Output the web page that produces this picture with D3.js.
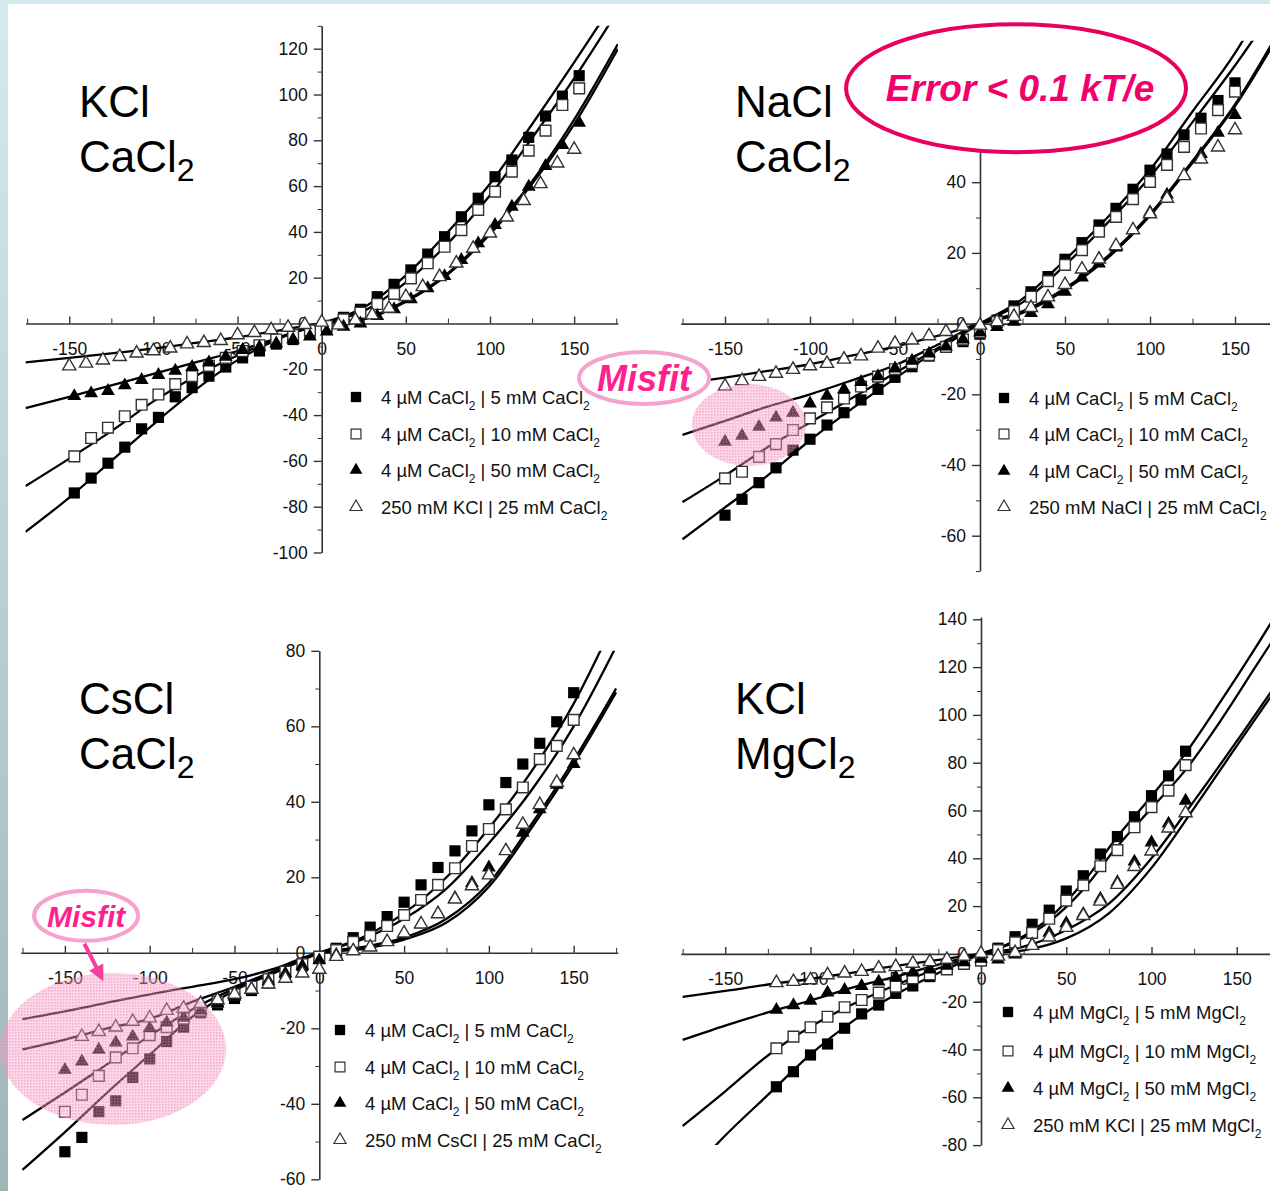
<!DOCTYPE html>
<html>
<head>
<meta charset="utf-8">
<script src="https://cdn.jsdelivr.net/npm/d3@7"></script>
<style>
  html, body { margin: 0; padding: 0; }
  body { width: 1270px; height: 1191px; overflow: hidden; background: linear-gradient(#d3eaee, #9fb5b8); }
  svg { display: block; }
</style>
</head>
<body>
<svg id="chart" width="1270" height="1191"></svg>
<script>
// ---- data: [voltage mV, current pA] ----
const xMajor = [-150, -100, -50, 0, 50, 100, 150];
const xMinor = [-175, -125, -75, -25, 25, 75, 125, 175];

// KCl | CaCl2
const kclCa_5 = [[-147,-74],[-137,-67.5],[-127,-61],[-117,-54],[-107,-46],[-97,-41],[-87,-32],[-77,-28],[-67,-23],[-57,-19],[-47,-15],[-37,-12],[-27,-9],[-17,-7],[-7,-4.5],[3,-2],[13,2.7],[23,6.2],[33,11.7],[43,17.1],[53,23.4],[63,30.3],[73,37.9],[83,46.6],[93,54.7],[103,64.1],[113,71.4],[123,81.3],[133,90.6],[143,99.3],[153,108.2]];
const kclCa_10 = [[-147,-58],[-137,-50],[-127,-45.5],[-117,-40.5],[-107,-35.5],[-97,-31],[-87,-26.5],[-77,-23],[-67,-18.5],[-57,-15],[-47,-12],[-37,-9.5],[-27,-7],[-17,-5],[-7,-3],[3,-1],[13,1.8],[23,4.7],[33,8.5],[43,12.9],[53,19.7],[63,26.3],[73,33.5],[83,40.8],[93,49.6],[103,57.6],[113,66.3],[123,75.5],[133,84.2],[143,95.4],[153,102.7]];
const kclCa_50 = [[-147,-31.7],[-137,-30.5],[-127,-29.5],[-117,-27],[-107,-24.7],[-97,-22.5],[-87,-20.6],[-77,-19],[-67,-17],[-57,-14.5],[-47,-11.6],[-37,-10.4],[-27,-8.7],[-17,-7],[-7,-5.7],[3,-3.5],[13,-1.4],[23,0],[33,3.3],[43,6.2],[53,10.6],[63,15.4],[73,20.7],[83,27.7],[93,35],[103,43],[113,51],[123,59.7],[133,68.8],[143,77.9],[153,87.7]];
const kclCa_bi = [[-150,-18.6],[-140,-17.4],[-130,-16],[-120,-14.5],[-110,-13],[-100,-12],[-90,-10.8],[-80,-9],[-70,-8.4],[-60,-7.5],[-50,-5],[-40,-4],[-30,-2.8],[-20,-1.7],[-10,-0.5],[0,0.5],[10,-0.7],[20,1.5],[30,3.7],[40,6.6],[50,11.7],[60,16],[70,20.4],[80,26.3],[90,32.8],[100,39.4],[110,46.4],[120,53.6],[130,61],[140,70],[150,76]];
const kclCaFit_5 = [[-176,-91],[-150,-76],[-125,-60],[-100,-44],[-75,-29],[-50,-16],[-25,-6.5],[0,0],[25,7],[50,21],[75,40],[100,61],[125,87],[150,114],[168,134]];
const kclCaFit_10 = [[-176,-71],[-150,-59],[-125,-47],[-100,-34],[-75,-23],[-50,-14],[-25,-6],[0,0],[25,5.5],[50,18],[75,35],[100,56],[125,81],[150,107],[172,132]];
const kclCaFit_50 = [[-176,-37],[-150,-32],[-125,-27],[-100,-22],[-75,-17],[-50,-12],[-25,-6],[0,0],[25,2],[50,10],[75,22],[100,40],[125,62],[150,89],[176,122]];
const kclCaFit_bi = [[-176,-17],[-150,-15],[-125,-13],[-100,-11],[-75,-8.5],[-50,-6],[-25,-3],[0,0],[25,1.8],[50,9.5],[75,21.5],[100,39],[125,61],[150,87],[176,120]];

// NaCl | CaCl2
const naCa_5 = [[-150,-54.2],[-140,-49.7],[-130,-45],[-120,-40.8],[-110,-35.8],[-100,-32.7],[-90,-28.7],[-80,-25.2],[-70,-21.6],[-60,-18.6],[-50,-15.2],[-40,-12.2],[-30,-9.2],[-20,-6.7],[-10,-5.1],[0,-3],[10,1],[20,5],[30,9],[40,13.3],[50,18.2],[60,22.9],[70,27.9],[80,32.6],[90,38],[100,43.4],[110,48],[120,53.4],[130,58.1],[140,63.1],[150,68.1]];
const naCa_10 = [[-150,-43.8],[-140,-41.9],[-130,-37.7],[-120,-34.1],[-110,-30.1],[-100,-26.8],[-90,-23.7],[-80,-21.2],[-70,-17.8],[-60,-15],[-50,-12.9],[-40,-11.2],[-30,-8.9],[-20,-6.6],[-10,-4.5],[0,-2.5],[10,0.5],[20,3.5],[30,7.6],[40,12],[50,16.6],[60,20.8],[70,26],[80,30.2],[90,35.2],[100,40.1],[110,44.9],[120,50],[130,55.2],[140,60.4],[150,65.6]];
const naCa_50 = [[-150,-33.4],[-140,-31.7],[-130,-29.2],[-120,-26.6],[-110,-25.2],[-100,-22.6],[-90,-20.4],[-80,-18.6],[-70,-16.5],[-60,-14.9],[-50,-12.7],[-40,-10.5],[-30,-8.5],[-20,-6.5],[-10,-4.5],[0,-2.5],[10,-1],[20,0.5],[30,3],[40,5.5],[50,9],[60,13],[70,17],[80,21.5],[90,26.5],[100,31.5],[110,36.5],[120,42],[130,48],[140,54],[150,59]];
const naCa_bi = [[-150,-17.7],[-140,-16.2],[-130,-15],[-120,-14.1],[-110,-13],[-100,-12],[-90,-11.3],[-80,-10.1],[-70,-9.2],[-60,-7],[-50,-5.6],[-40,-4.7],[-30,-3.5],[-20,-2.3],[-10,-0.8],[0,-0.5],[10,0.5],[20,2],[30,4.5],[40,7.5],[50,11],[60,15.4],[70,18.2],[80,22],[90,26.5],[100,31],[110,35.4],[120,41.8],[130,46.5],[140,49.9],[150,54.8]];
const naCaFit_5 = [[-175,-61],[-150,-52],[-125,-43],[-100,-33],[-75,-24],[-50,-15.5],[-25,-7.5],[0,0],[25,7],[50,18],[75,30],[100,43.5],[125,60],[150,76.5],[162,86]];
const naCaFit_10 = [[-175,-50.5],[-150,-43],[-125,-35],[-100,-28],[-75,-21],[-50,-14],[-25,-7],[0,0],[25,6],[50,16.5],[75,28.5],[100,41.5],[125,57],[150,73],[166,84]];
const naCaFit_50 = [[-175,-31.5],[-150,-27.5],[-125,-23.5],[-100,-20],[-75,-16],[-50,-11.8],[-25,-6],[0,0],[25,3.5],[50,10],[75,19],[100,31],[125,46],[150,62],[175,82]];
const naCaFit_bi = [[-175,-17],[-150,-15.3],[-125,-13.4],[-100,-11.5],[-75,-9],[-50,-6.5],[-25,-3.5],[0,0],[25,3],[50,9.5],[75,18.5],[100,30.5],[125,45.5],[150,61.5],[175,81]];

// CsCl | CaCl2
const csCa_5 = [[-150,-52.7],[-140,-48.9],[-130,-42.1],[-120,-39.2],[-110,-33],[-100,-28.1],[-90,-23.5],[-80,-19.7],[-70,-15.9],[-60,-13.8],[-50,-12.1],[-40,-10],[-30,-8],[-20,-6],[-10,-3.5],[0,-1.5],[10,1.2],[20,4],[30,6.8],[40,9.6],[50,13.4],[60,18],[70,22.6],[80,27],[90,32.3],[100,39.2],[110,45.1],[120,50],[130,55.5],[140,61.2],[150,68.9]];
const csCa_10 = [[-150,-42.1],[-140,-37.6],[-130,-32.6],[-120,-27.7],[-110,-25.3],[-100,-21.8],[-90,-19.7],[-80,-17.4],[-70,-15.3],[-60,-13],[-50,-11],[-40,-9],[-30,-7],[-20,-5],[-10,-3],[0,-1],[10,0.7],[20,2.9],[30,4.5],[40,7.1],[50,10],[60,14],[70,18],[80,22.4],[90,28.3],[100,32.8],[110,38],[120,43.8],[130,51.3],[140,54.8],[150,61.7]];
const csCa_50 = [[-150,-31],[-140,-28.8],[-130,-25.7],[-120,-23.8],[-110,-22.2],[-100,-20],[-90,-18.5],[-80,-17.2],[-70,-15.3],[-60,-13.4],[-50,-11.6],[-40,-9.5],[-30,-7.5],[-20,-5.5],[-10,-3.5],[0,-2],[10,-0.5],[20,0.5],[30,1.5],[40,3],[50,5],[60,7.5],[70,10.5],[80,14.5],[90,18.5],[100,22.6],[110,27],[120,31.8],[130,38],[140,44.5],[150,50]];
const csCa_bi = [[-140,-22.2],[-130,-20.9],[-120,-19.7],[-110,-18.2],[-100,-17.3],[-90,-15.3],[-80,-14.7],[-70,-13.5],[-60,-12.5],[-50,-11],[-40,-9.7],[-30,-8.3],[-20,-6.8],[-10,-5.4],[0,-4.4],[10,-1],[20,0.5],[30,1.5],[40,2.9],[50,5.2],[60,7.6],[70,10.3],[80,14.2],[90,17.7],[100,20.6],[110,27],[120,34],[130,39.2],[140,45.1],[150,52.4]];
const csCaFit_5 = [[-175,-57.5],[-150,-47.5],[-125,-37],[-100,-27],[-75,-17],[-50,-10],[-25,-5],[0,0],[25,4],[50,10.5],[75,20],[100,33],[125,48],[150,66],[170,84]];
const csCaFit_10 = [[-175,-44.3],[-150,-37],[-125,-29.5],[-100,-22],[-75,-15],[-50,-9.5],[-25,-5],[0,0],[25,3.5],[50,9],[75,17],[100,29],[125,43],[150,60],[176,82]];
const csCaFit_50 = [[-175,-25.6],[-150,-23],[-125,-20],[-100,-17.5],[-75,-13],[-50,-9],[-25,-4.5],[0,0],[25,1.5],[50,4],[75,9],[100,18.5],[125,34],[150,51],[175,70]];
const csCaFit_bi = [[-175,-17.6],[-150,-15.5],[-125,-13.2],[-100,-11],[-75,-9],[-50,-7],[-25,-4],[0,0],[25,1],[50,3.5],[75,8],[100,17.5],[125,33],[150,50],[175,69]];

// KCl | MgCl2
const kclMg_5 = [[-120,-55.6],[-110,-49.3],[-100,-42.3],[-90,-37.7],[-80,-31.1],[-70,-25.1],[-60,-21.4],[-50,-16.5],[-40,-13.4],[-30,-9.5],[-20,-6.5],[-10,-4],[0,-2],[10,2.4],[20,7.2],[30,12.4],[40,18.3],[50,26.3],[60,32.7],[70,41.8],[80,49.1],[90,57.4],[100,66.2],[110,74.5],[120,84.8]];
const kclMg_10 = [[-120,-39.5],[-110,-34.6],[-100,-30.7],[-90,-26.3],[-80,-22.3],[-70,-19.3],[-60,-16.2],[-50,-13.7],[-40,-10.2],[-30,-8.5],[-20,-6.5],[-10,-4.2],[0,-2.8],[10,1.6],[20,4.8],[30,8.8],[40,14.7],[50,22.3],[60,28.7],[70,36.7],[80,43.4],[90,53],[100,61.4],[110,68.3],[120,79]];
const kclMg_50 = [[-120,-23.4],[-110,-21.5],[-100,-19.6],[-90,-16.2],[-80,-15.1],[-70,-13.4],[-60,-11.6],[-50,-9.8],[-40,-7.8],[-30,-6.5],[-20,-5],[-10,-3.5],[0,-2],[10,-2.4],[20,-0.3],[30,4],[40,8.8],[50,12.8],[60,16.7],[70,23.1],[80,30],[90,38.6],[100,46.6],[110,54.5],[120,64.1]];
const kclMg_bi = [[-120,-12.1],[-110,-11.6],[-100,-10.9],[-90,-8.8],[-80,-8.1],[-70,-7.4],[-60,-6],[-50,-5.4],[-40,-4],[-30,-3.3],[-20,-2.3],[-10,-1],[0,0.2],[10,-1],[20,0.5],[30,3.5],[40,7],[50,11],[60,16],[70,22],[80,29],[90,36.5],[100,43],[110,52.6],[120,59]];
const kclMgFit_5 = [[-175,-95],[-150,-76],[-125,-59],[-100,-42],[-75,-28],[-50,-17],[-25,-8],[0,0],[20,5.5],[40,15],[60,30],[80,49],[100,66],[120,84],[140,105],[160,127],[180,150]];
const kclMgFit_10 = [[-175,-72],[-150,-57.5],[-125,-42.5],[-100,-30.5],[-75,-21],[-50,-13],[-25,-6],[0,0],[20,5],[40,13.5],[60,27],[80,45],[100,61],[120,77],[140,97],[160,119],[180,141]];
const kclMgFit_50 = [[-175,-36],[-150,-30],[-125,-24.5],[-100,-19.5],[-75,-14],[-50,-9.5],[-25,-4.5],[0,0],[25,3],[50,10],[75,21],[100,40],[125,64],[150,89],[180,120]];
const kclMgFit_bi = [[-175,-18],[-150,-15.5],[-125,-12.8],[-100,-10.5],[-75,-7.8],[-50,-5],[-25,-2.5],[0,0],[25,1.5],[50,6.5],[75,17],[100,36],[125,61],[150,87],[180,118]];

// legend labels ("_2" marks a subscript 2)
const kclCaLabels = ["4 \u00b5M CaCl_2 | 5 mM CaCl_2", "4 \u00b5M CaCl_2 | 10 mM CaCl_2", "4 \u00b5M CaCl_2 | 50 mM CaCl_2", "250 mM KCl | 25 mM CaCl_2"];
const naCaLabels = ["4 \u00b5M CaCl_2 | 5 mM CaCl_2", "4 \u00b5M CaCl_2 | 10 mM CaCl_2", "4 \u00b5M CaCl_2 | 50 mM CaCl_2", "250 mM NaCl | 25 mM CaCl_2"];
const csCaLabels = ["4 \u00b5M CaCl_2 | 5 mM CaCl_2", "4 \u00b5M CaCl_2 | 10 mM CaCl_2", "4 \u00b5M CaCl_2 | 50 mM CaCl_2", "250 mM CsCl | 25 mM CaCl_2"];
const kclMgLabels = ["4 \u00b5M MgCl_2 | 5 mM MgCl_2", "4 \u00b5M MgCl_2 | 10 mM MgCl_2", "4 \u00b5M MgCl_2 | 50 mM MgCl_2", "250 mM KCl | 25 mM MgCl_2"];

// ---- layout ----
const FONT = "'Liberation Sans', Arial, Helvetica, sans-serif";
const panels = [
  { title: ["KCl", "CaCl_2"], tx: 79, ty: [117, 172], ox: 321.7, oy: 323.5, sx: 1.683, sy: 2.29, yDom: [-100, 130], yLabelMax: 130,
    series: [kclCa_5, kclCa_10, kclCa_50, kclCa_bi], fits: [kclCaFit_5, kclCaFit_10, kclCaFit_50, kclCaFit_bi],
    labels: kclCaLabels, lx: 356, ltx: 381, ly: [397, 434, 470, 507] },
  { title: ["NaCl", "CaCl_2"], tx: 735, ty: [117, 172], ox: 980, oy: 323.6, sx: 1.7, sy: 3.535, yDom: [-70, 80], yLabelMax: 40,
    series: [naCa_5, naCa_10, naCa_50, naCa_bi], fits: [naCaFit_5, naCaFit_10, naCaFit_50, naCaFit_bi],
    labels: naCaLabels, lx: 1004, ltx: 1029, ly: [398, 434, 471, 507] },
  { title: ["CsCl", "CaCl_2"], tx: 79, ty: [714, 769], ox: 319.3, oy: 952.8, sx: 1.696, sy: 3.775, yDom: [-60, 80], yLabelMax: 80,
    series: [csCa_5, csCa_10, csCa_50, csCa_bi], fits: [csCaFit_5, csCaFit_10, csCaFit_50, csCaFit_bi],
    labels: csCaLabels, lx: 340, ltx: 365, ly: [1030, 1067, 1103, 1140] },
  { title: ["KCl", "MgCl_2"], tx: 735, ty: [714, 769], ox: 981, oy: 953.9, sx: 1.705, sy: 2.39, yDom: [-80, 141], yLabelMax: 141,
    series: [kclMg_5, kclMg_10, kclMg_50, kclMg_bi], fits: [kclMgFit_5, kclMgFit_10, kclMgFit_50, kclMgFit_bi],
    labels: kclMgLabels, lx: 1008, ltx: 1033, ly: [1012, 1051, 1088, 1125] }
];

const svg = d3.select("#chart");
svg.append("rect").attr("x", 8).attr("y", 4).attr("width", 1262).attr("height", 1187).attr("fill", "#fff");

const defs = svg.append("defs");
const pat = defs.append("pattern").attr("id", "pinkdots").attr("width", 3).attr("height", 3).attr("patternUnits", "userSpaceOnUse");
pat.append("rect").attr("width", 3).attr("height", 3).attr("fill", "#f5a0c8").attr("opacity", 0.42);
pat.append("rect").attr("width", 1.5).attr("height", 1.5).attr("fill", "#ee78b0").attr("opacity", 0.45);
defs.append("marker").attr("id", "arrowhead").attr("viewBox", "0 0 10 10").attr("refX", 6).attr("refY", 5)
  .attr("markerWidth", 4).attr("markerHeight", 4).attr("orient", "auto")
  .append("path").attr("d", "M0,0L10,5L0,10z").attr("fill", "#f2409c");

const shapes = [
  { type: d3.symbolSquare, size: 125, fill: "#000", stroke: "none" },
  { type: d3.symbolSquare, size: 115, fill: "#fff", stroke: "#333" },
  { type: d3.symbolTriangle, size: 82, fill: "#000", stroke: "none" },
  { type: d3.symbolTriangle, size: 75, fill: "#fff", stroke: "#333" }
];

function subText(sel, str, subSize, shift) {
  const parts = str.split("_2");
  parts.forEach((part, i) => {
    const t = sel.append("tspan").text(part);
    if (i > 0) t.attr("dy", -shift);
    if (i < parts.length - 1) {
      sel.append("tspan").attr("font-size", subSize).attr("dy", shift).text("2");
    }
  });
}

const scales = [];

panels.forEach((p, pi) => {
  const xDom = [-176, 176];
  const x = d3.scaleLinear().domain(xDom).range([p.ox + xDom[0] * p.sx, p.ox + xDom[1] * p.sx]);
  const y = d3.scaleLinear().domain(p.yDom).range([p.oy - p.yDom[0] * p.sy, p.oy - p.yDom[1] * p.sy]);
  scales.push({ x, y });
  const g = svg.append("g");
  const fmt = d => String(d); // plain hyphen minus, as in the source

  // x axis: ticks point up, labels below
  g.append("g").attr("transform", `translate(0,${y(0)})`)
    .call(d3.axisBottom(x).tickValues(xMinor).tickSize(-5).tickSizeOuter(0).tickFormat(""))
    .attr("color", "#333").call(a => a.select(".domain").attr("stroke-width", 1.6));
  g.append("g").attr("transform", `translate(0,${y(0)})`)
    .call(d3.axisBottom(x).tickValues(xMajor).tickSize(-7).tickSizeOuter(0).tickPadding(19).tickFormat(fmt))
    .attr("color", "#333").attr("font-size", 17.5).attr("font-family", FONT)
    .call(a => a.select(".domain").remove())
    .call(a => a.selectAll("line").attr("stroke-width", 1.4))
    .call(a => a.selectAll("text").attr("fill", "#111"));

  // y axis
  const yMajor = d3.range(Math.ceil(p.yDom[0] / 20) * 20, p.yLabelMax + 1, 20);
  const yMinor = d3.range(Math.ceil(p.yDom[0] / 10) * 10, p.yDom[1] + 1, 10).filter(v => v % 20 !== 0);
  g.append("g").attr("transform", `translate(${x(0)},0)`)
    .call(d3.axisLeft(y).tickValues(yMinor).tickSize(4).tickSizeOuter(0).tickFormat(""))
    .attr("color", "#333").call(a => a.select(".domain").attr("stroke-width", 1.6));
  g.append("g").attr("transform", `translate(${x(0)},0)`)
    .call(d3.axisLeft(y).tickValues(yMajor).tickSize(8).tickSizeOuter(0).tickPadding(6).tickFormat(fmt))
    .attr("color", "#333").attr("font-size", 17.5).attr("font-family", FONT)
    .call(a => a.select(".domain").remove())
    .call(a => a.selectAll("line").attr("stroke-width", 1.4))
    .call(a => a.selectAll("text").attr("fill", "#111"));

  // fitted curves, clipped to the plot box
  const clipId = "clip" + pi;
  defs.append("clipPath").attr("id", clipId).append("rect")
    .attr("x", x(xDom[0])).attr("y", y(p.yDom[1]))
    .attr("width", x(xDom[1]) - x(xDom[0])).attr("height", y(p.yDom[0]) - y(p.yDom[1]));
  const line = d3.line().x(d => x(d[0])).y(d => y(d[1])).curve(d3.curveMonotoneX);
  g.append("g").attr("clip-path", `url(#${clipId})`)
    .selectAll("path").data(p.fits).join("path")
    .attr("d", line).attr("fill", "none").attr("stroke", "#000").attr("stroke-width", 2.3);

  // data points
  p.series.forEach((s, si) => {
    const sh = shapes[si];
    g.append("g").selectAll("path").data(s).join("path")
      .attr("transform", d => `translate(${x(d[0])},${y(d[1])})`)
      .attr("d", d3.symbol().type(sh.type).size(sh.size))
      .attr("fill", sh.fill).attr("stroke", sh.stroke).attr("stroke-width", 1.4);
  });

  // legend
  const lg = g.append("g").attr("font-family", FONT).attr("font-size", 18.5).attr("fill", "#111");
  p.labels.forEach((lab, i) => {
    const sh = shapes[i];
    lg.append("path").attr("transform", `translate(${p.lx},${p.ly[i]})`)
      .attr("d", d3.symbol().type(sh.type).size(sh.size * 0.85))
      .attr("fill", sh.fill).attr("stroke", sh.stroke).attr("stroke-width", 1.2);
    const t = lg.append("text").attr("x", p.ltx).attr("y", p.ly[i] + 6.5);
    subText(t, lab, 12, 6);
  });

  // panel title
  const tg = g.append("g").attr("font-family", FONT).attr("font-size", 44).attr("fill", "#000");
  p.title.forEach((tt, i) => {
    const t = tg.append("text").attr("x", p.tx).attr("y", p.ty[i]);
    subText(t, tt, 32, 9);
  });
});

// ---- annotations ----
const s2 = scales[1], s3 = scales[2];

// shaded misfit regions
svg.append("ellipse").attr("cx", s2.x(-136)).attr("cy", s2.y(-28.7)).attr("rx", 57).attr("ry", 41)
  .attr("fill", "url(#pinkdots)");
svg.append("ellipse").attr("cx", s3.x(-121.6)).attr("cy", s3.y(-25.5)).attr("rx", 113).attr("ry", 76)
  .attr("fill", "url(#pinkdots)");

// "Misfit" labels
function misfit(cx, cy, rx, ry, fs) {
  svg.append("ellipse").attr("cx", cx).attr("cy", cy).attr("rx", rx).attr("ry", ry)
    .attr("fill", "#fff").attr("stroke", "#f5a3cd").attr("stroke-width", 4);
  svg.append("text").attr("x", cx).attr("y", cy + fs * 0.36).attr("text-anchor", "middle")
    .attr("font-family", FONT).attr("font-weight", "bold").attr("font-style", "italic")
    .attr("font-size", fs).attr("fill", "#ff1f8f").text("Misfit");
}
misfit(s2.x(-197.6), s2.y(-15.4), 65, 26, 36);
misfit(s3.x(-137.5), s3.y(9.8), 52, 25, 30);

svg.append("line").attr("x1", s3.x(-138.5)).attr("y1", s3.y(2.4)).attr("x2", s3.x(-129)).attr("y2", s3.y(-6))
  .attr("stroke", "#f2409c").attr("stroke-width", 4).attr("marker-end", "url(#arrowhead)");

// error note
svg.append("ellipse").attr("cx", s2.x(21.2)).attr("cy", s2.y(66.6)).attr("rx", 170).attr("ry", 64)
  .attr("fill", "#fff").attr("stroke", "#e8005d").attr("stroke-width", 4);
svg.append("text").attr("x", s2.x(21.2) + 4).attr("y", s2.y(66.6) + 13).attr("text-anchor", "middle")
  .attr("font-family", FONT).attr("font-weight", "bold").attr("font-style", "italic")
  .attr("font-size", 37).attr("fill", "#f2006c").text("Error < 0.1 kT/e");
</script>
</body>
</html>
